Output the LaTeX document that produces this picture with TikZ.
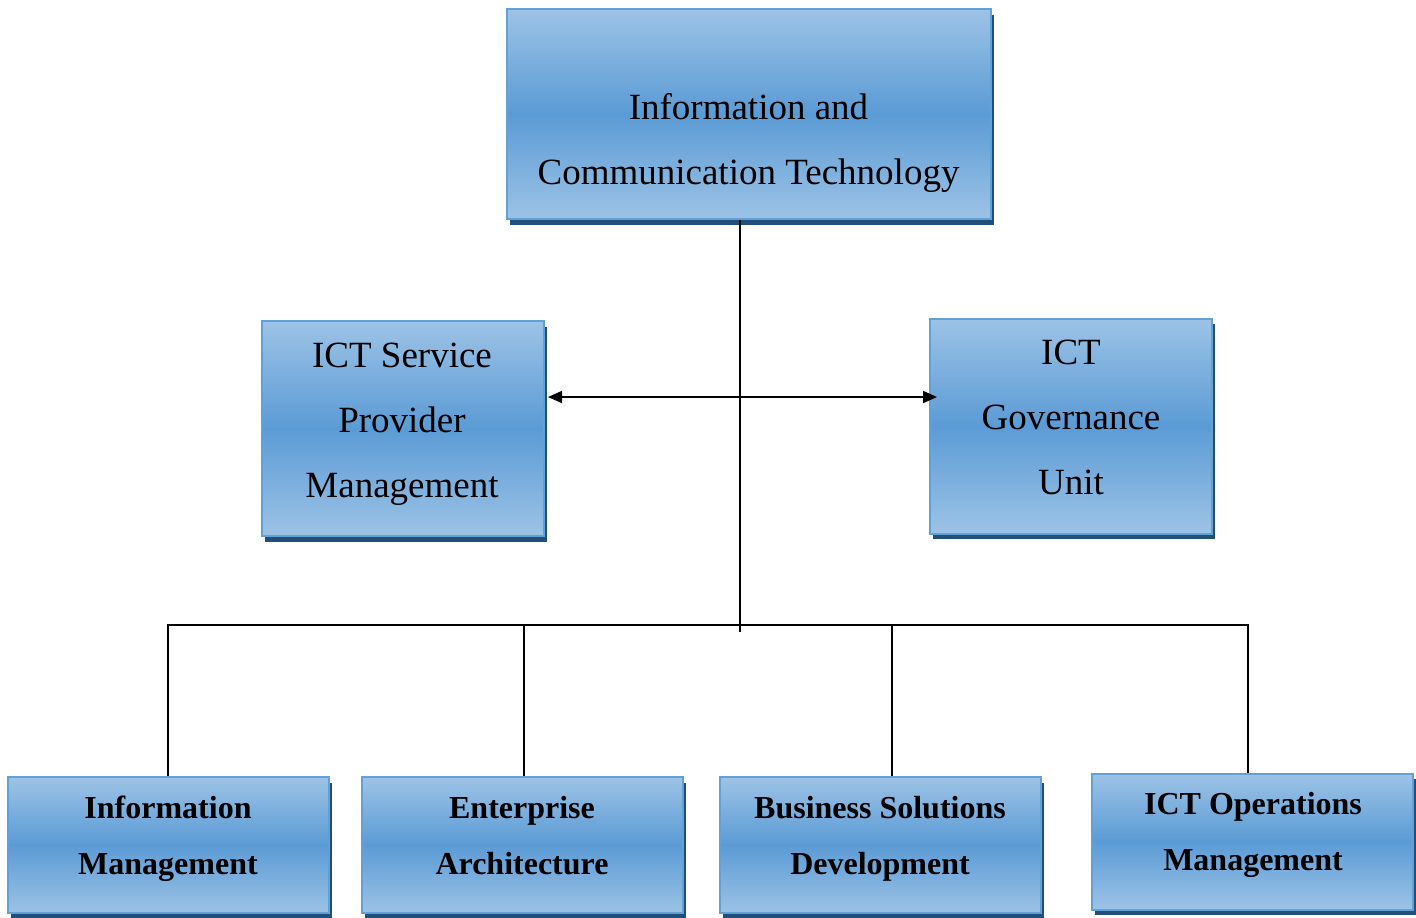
\documentclass[tikz,border=0pt]{standalone}
\usepackage{fontspec}
\setmainfont{Liberation Serif}
\usetikzlibrary{shadows,arrows.meta}
\definecolor{boxtop}{RGB}{157,195,230}
\definecolor{boxmid}{RGB}{91,155,213}
\definecolor{boxline}{RGB}{98,160,216}
\definecolor{boxshadow}{RGB}{33,79,122}
\tikzset{orgbox/.style={draw=boxline, line width=1pt,
   top color=boxtop, bottom color=boxtop, middle color=boxmid,
   drop shadow={shadow xshift=1.5pt, shadow yshift=-2.75pt, fill=boxshadow, opacity=1}},
 headbox/.style={orgbox, minimum width=242pt, minimum height=105pt},
 deptbox/.style={orgbox, minimum width=141pt, minimum height=107.5pt},
 teambox/.style={orgbox, minimum width=160.5pt, minimum height=68pt},
 boxtext/.style={align=center, font=\fontsize{18.5}{32.5}\selectfont},
 teamtext/.style={align=center, font=\fontsize{16}{28}\selectfont\bfseries},
 link/.style={line width=0.9pt},
 }

\begin{document}
\begin{tikzpicture}[x=0.5pt,y=-0.5pt]
        \useasboundingbox (0,0) rectangle (1416,917);
        \node[headbox] (ict) at (749, 114) {};
        \node[deptbox] (spm) at (403, 428.5) {};
        \node[deptbox] (gov) at (1071, 426) {};
        \node[teambox] (im) at (168.5, 845) {};
        \node[teambox] (ea) at (522.5, 845) {};
        \node[teambox] (bsd) at (880.5, 845) {};
        \node[teambox] (ops) at (1252.5, 841.5) {};
        \node[boxtext] (ictt) at (748.5, 142.5) {Information and\\Communication Technology};
        \node[boxtext] (spmt) at (402, 424) {ICT Service\\Provider\\Management};
        \node[boxtext] (govt) at (1071, 417.5) {ICT\\Governance\\Unit};
        \node[teamtext] (imt) at (168, 839) {Information\\Management};
        \node[teamtext] (eat) at (522, 836) {Enterprise\\Architecture};
        \node[teamtext] (bsdt) at (880, 839) {Business Solutions\\Development};
        \node[teamtext] (opst) at (1253, 835) {ICT Operations\\Management};
        \coordinate (jn) at (740, 625);
        \coordinate (arr) at (740, 397);
        \draw[link] (ict.south -| jn) -- ([yshift=-3.5pt]jn);
        \draw[link, -{Triangle[length=7pt,width=6pt]}] (arr) -- ([xshift=1.5pt]arr -| spm.east);
        \draw[link, -{Triangle[length=7pt,width=6pt]}] (arr) -- ([xshift=4pt]arr -| gov.west);
        \draw[link] ([xshift=-0.25pt]im.north) |- (jn) -| ([xshift=-2.25pt]ops.north);
        \draw[link] ([xshift=0.75pt]ea.north) -- ([xshift=0.75pt]ea.north |- jn);
        \draw[link] ([xshift=5.75pt]bsd.north) -- ([xshift=5.75pt]bsd.north |- jn);
    \end{tikzpicture}
\end{document}
